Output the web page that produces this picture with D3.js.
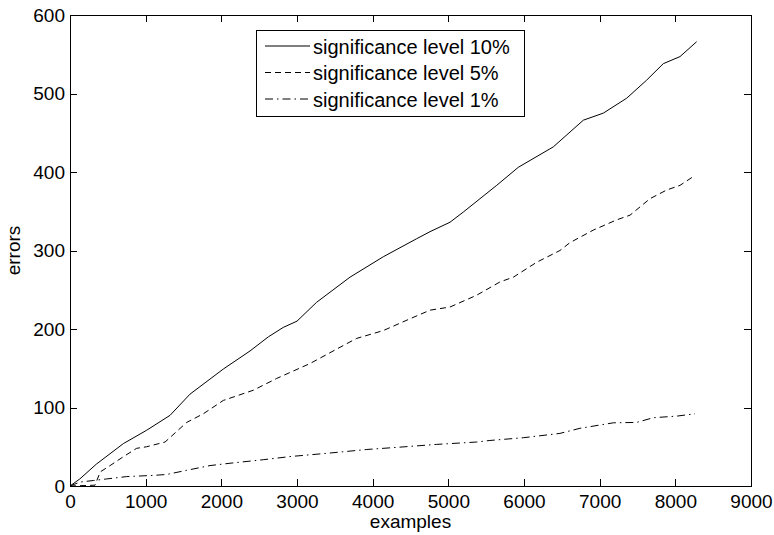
<!DOCTYPE html>
<html>
<head>
<meta charset="utf-8">
<script src="https://cdn.jsdelivr.net/npm/d3@7"></script>
<style>
  body { margin: 0; background: #fff; }
  text { font-family: "Liberation Sans", Arial, Helvetica, sans-serif; fill: #000; }
</style>
</head>
<body>
<svg id="chart" width="774" height="535"></svg>
<script>
// cumulative errors, [examples, errors]
const sig10 = [[0,0],[130,9],[350,28],[705,54],[1013,71],[1322,90],[1586,117],[2026,149],[2379,172],
  [2621,190],[2818,202],[3000,210],[3259,234],[3700,266],[4140,292],[4581,315],[4758,324],[5022,336],
  [5198,349],[5639,383],[5925,406],[6387,432],[6784,466],[7048,475],[7357,494],[7621,517],[7841,538],
  [8062,547],[8282,566]];
const sig5 = [[0,0],[330,1],[400,18],[530,26],[700,37],[881,48],[1013,50],[1256,56],[1542,81],[1762,92],
  [2026,109],[2423,122],[2731,137],[3172,156],[3612,179],[3788,188],[4140,198],[4493,213],[4758,224],
  [5022,228],[5374,243],[5683,260],[5859,266],[6167,285],[6475,300],[6607,310],[6916,326],[7224,339],
  [7401,345],[7665,366],[7885,377],[8062,383],[8250,395]];
const sig1 = [[0,0],[132,5],[308,7],[485,9],[749,12],[1101,13.5],[1278,14.7],[1542,20],[1850,26],
  [2114,29],[2555,33.5],[2908,37.5],[3436,42],[3921,46.5],[4361,49.5],[4846,53],[5374,56],[5550,58],
  [5991,61.5],[6475,67],[6740,73.5],[7181,80.5],[7489,81],[7709,87],[8018,89],[8260,92]];

const seriesNames = ["significance level 10%", "significance level 5%", "significance level 1%"];
const xTicks = [0,1000,2000,3000,4000,5000,6000,7000,8000,9000];
const yTicks = [0,100,200,300,400,500,600];

const plotLeft = 70, plotRight = 751, plotTop = 15, plotBottom = 486;
const fontSize = 19;

const svg = d3.select("#chart");

const x = d3.scaleLinear().domain([0, 9000]).range([plotLeft, plotRight]);
const y = d3.scaleLinear().domain([0, 600]).range([plotBottom, plotTop]);

// the curves
const styles = [
    { data: sig10, dash: null },
    { data: sig5, dash: "6,4" },
    { data: sig1, dash: "8,4,1.5,4" }
];

const line = d3.line().x(d => x(d[0])).y(d => y(d[1]));

svg.append("g")
    .selectAll("path")
    .data(styles)
    .join("path")
    .attr("d", d => line(d.data))
    .attr("fill", "none")
    .attr("stroke", "#000")
    .attr("stroke-width", 1)
    .attr("stroke-dasharray", d => d.dash);

// axes, matlab style: inward ticks on all four sides
function styleAxis(g) {
    g.selectAll("path, line")
        .attr("stroke", "#000")
        .attr("stroke-width", 1)
        .attr("shape-rendering", "crispEdges");
    g.selectAll("text")
        .attr("font-size", fontSize)
        .attr("font-family", null)
        .attr("fill", "#000");
}

const plain = d3.format("d");

svg.append("g")
    .attr("transform", `translate(0,${plotBottom})`)
    .call(d3.axisBottom(x).tickValues(xTicks).tickFormat(plain).tickSize(-7).tickSizeOuter(0).tickPadding(9))
    .call(styleAxis);

svg.append("g")
    .attr("transform", `translate(0,${plotTop})`)
    .call(d3.axisTop(x).tickValues(xTicks).tickSize(-7).tickSizeOuter(0).tickFormat(""))
    .call(styleAxis);

svg.append("g")
    .attr("transform", `translate(${plotLeft},0)`)
    .call(d3.axisLeft(y).tickValues(yTicks).tickFormat(plain).tickSize(-7).tickSizeOuter(0).tickPadding(5))
    .call(styleAxis);

svg.append("g")
    .attr("transform", `translate(${plotRight},0)`)
    .call(d3.axisRight(y).tickValues(yTicks).tickSize(-7).tickSizeOuter(0).tickFormat(""))
    .call(styleAxis);

// axis labels
svg.append("text")
    .attr("x", (plotLeft + plotRight) / 2)
    .attr("y", 528)
    .attr("text-anchor", "middle")
    .attr("font-size", fontSize)
    .text("examples");

svg.append("text")
    .attr("transform", `translate(20,${(plotTop + plotBottom) / 2}) rotate(-90)`)
    .attr("text-anchor", "middle")
    .attr("font-size", fontSize)
    .text("errors");

// legend
const legend = svg.append("g").attr("transform", "translate(256,30)");

legend.append("rect")
    .attr("x", 0.5).attr("y", 0.5)
    .attr("width", 268).attr("height", 86)
    .attr("fill", "#fff")
    .attr("stroke", "#000")
    .attr("stroke-width", 1)
    .attr("shape-rendering", "crispEdges");

const rows = legend.selectAll("g.row")
    .data(styles)
    .join("g")
    .attr("class", "row")
    .attr("transform", (d, i) => `translate(0,${16 + i * 26.5})`);

rows.append("line")
    .attr("x1", 9).attr("x2", 54)
    .attr("y1", 0).attr("y2", 0)
    .attr("stroke", "#000")
    .attr("stroke-width", 1)
    .attr("stroke-dasharray", d => d.dash);

rows.append("text")
    .attr("x", 57)
    .attr("y", 7.5)
    .attr("font-size", 20)
    .text((d, i) => seriesNames[i]);
</script>
</body>
</html>
